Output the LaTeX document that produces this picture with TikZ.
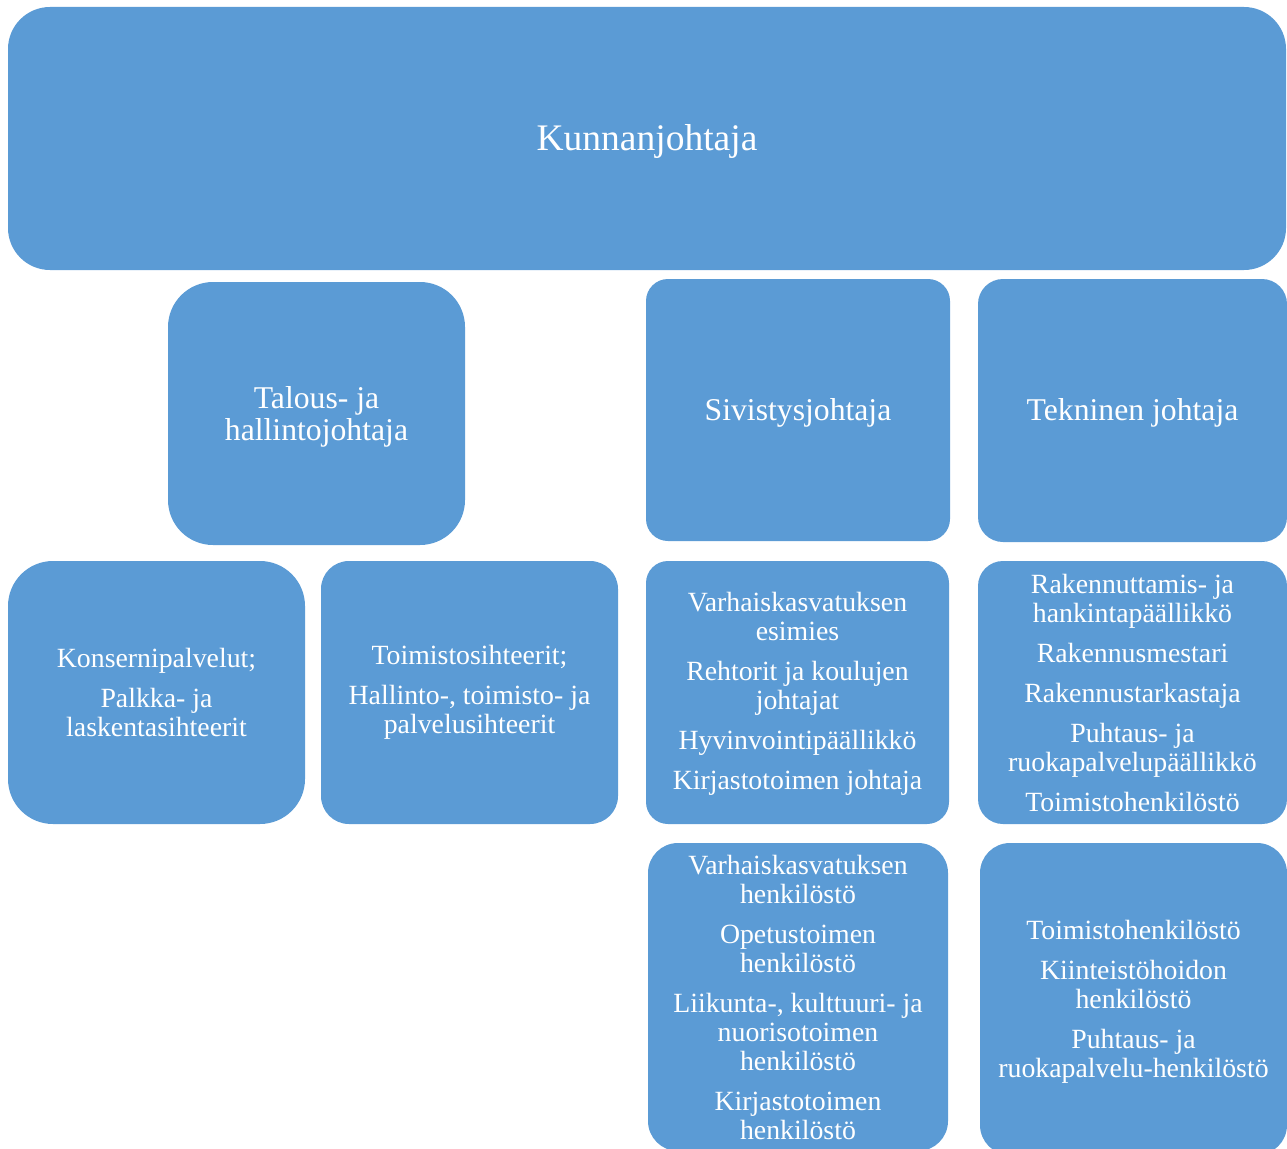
\documentclass[tikz,border=0pt]{standalone}
\usepackage{fontspec}
\setmainfont{Liberation Serif}
\definecolor{boxblue}{RGB}{91,155,213}
\tikzset{
  orgbox/.style={draw=none, fill=boxblue, text=white, inner sep=0pt, align=center},
  boxtext/.style={text=white, inner sep=0pt, align=center},
  lvlone/.style={font=\fontsize{37.5}{40}\selectfont},
  lvltwo/.style={font=\fontsize{31.7}{32.5}\selectfont},
  lvlthree/.style={font=\fontsize{27.8}{29}\selectfont},
}
\begin{document}
\begin{tikzpicture}[x=1pt,y=-1pt]
\useasboundingbox (0,0) rectangle (1287,1148);
\begin{scope}
\clip (0,0) rectangle (1287,1148);
% top
\node[orgbox, rounded corners=42pt, minimum width=1278pt, minimum height=263pt] (kunnan) at (647,138.5) {};
\node[boxtext, lvlone] (kunnant) at ([yshift=-3pt]kunnan.center) {Kunnanjohtaja};
% second row
\node[orgbox, rounded corners=45pt, minimum width=297pt, minimum height=263pt] (talous) at (316.5,413.5) {};
\node[boxtext, lvltwo] (taloust) at ([yshift=-3.5pt]talous.center) {Talous- ja\\hallintojohtaja};
\node[orgbox, rounded corners=22pt, minimum width=304pt, minimum height=262pt] (sivistys) at (798,410) {};
\node[boxtext, lvltwo] (sivistyst) at ([yshift=-3pt]sivistys.center) {Sivistysjohtaja};
\node[orgbox, rounded corners=25pt, minimum width=309pt, minimum height=263pt] (tekninen) at (1132.5,410.5) {};
\node[boxtext, lvltwo] (teknisent) at ([yshift=-2.5pt]tekninen.center) {Tekninen johtaja};
% third row
\node[orgbox, lvlthree, rounded corners=45pt, minimum width=297pt, minimum height=263pt] (konserni) at (156.5,692.5) {Konsernipalvelut;\\[11pt]Palkka- ja\\laskentasihteerit};
\node[orgbox, lvlthree, rounded corners=28pt, minimum width=297pt, minimum height=263pt] (toimisto) at (469.5,692.5) {Toimistosihteerit;\\[11pt]Hallinto-, toimisto- ja\\palvelusihteerit};
\node[orgbox, rounded corners=22pt, minimum width=303pt, minimum height=263pt] (varhais) at (797.5,692.5) {};
\node[boxtext, lvlthree] (varhaist) at ([yshift=-1.5pt]varhais.center) {Varhaiskasvatuksen\\esimies\\[11pt]Rehtorit ja koulujen\\johtajat\\[11pt]Hyvinvointipäällikkö\\[11pt]Kirjastotoimen johtaja};
\node[orgbox, lvlthree, rounded corners=25pt, minimum width=309pt, minimum height=263pt] (rakennus) at (1132.5,692.5) {Rakennuttamis- ja\\hankintapäällikkö\\[11pt]Rakennusmestari\\[11pt]Rakennustarkastaja\\[11pt]Puhtaus- ja\\ruokapalvelupäällikkö\\[11pt]Toimistohenkilöstö};
% fourth row
\node[orgbox, lvlthree, rounded corners=30pt, minimum width=300pt, minimum height=308pt] (varhaish) at (798,997) {Varhaiskasvatuksen\\henkilöstö\\[11pt]Opetustoimen\\henkilöstö\\[11pt]Liikunta-, kulttuuri- ja\\nuorisotoimen\\henkilöstö\\[11pt]Kirjastotoimen\\henkilöstö};
\node[orgbox, rounded corners=30pt, minimum width=307pt, minimum height=312pt] (toimh) at (1133.5,999) {};
\node[boxtext, lvlthree] (toimht) at ([yshift=-2.5pt]toimh.center) {Toimistohenkilöstö\\[11pt]Kiinteistöhoidon\\henkilöstö\\[11pt]Puhtaus- ja\\ruokapalvelu-henkilöstö};
\end{scope}
\end{tikzpicture}
\end{document}
